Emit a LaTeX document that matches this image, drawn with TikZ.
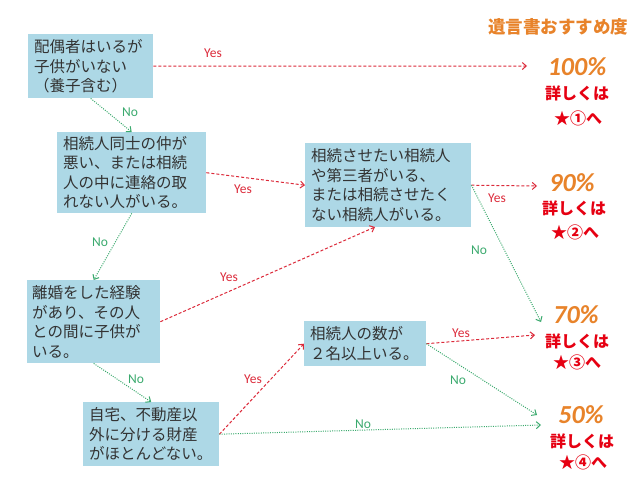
\documentclass[tikz,border=0pt]{standalone}
\usepackage{fontspec}
\usetikzlibrary{arrows.meta}
\newfontfamily\jp{Noto Sans CJK JP}
\newfontfamily\lat{Carlito}
\definecolor{boxfill}{HTML}{ADD8E6}
\definecolor{textdark}{HTML}{333333}
\definecolor{yesred}{HTML}{DC2A3A}
\definecolor{nogreen}{HTML}{3BAA6E}
\definecolor{ocolor}{HTML}{E8832A}
\definecolor{dred}{HTML}{E60012}
\tikzset{
 qbox/.style={fill=boxfill, anchor=north west, inner xsep=6pt, inner ysep=2pt, align=left, text=textdark, font=\jp\fontsize{15.5}{19.5}\selectfont},
 yesline/.style={draw=yesred, line width=1pt, dash pattern=on 3pt off 2pt, -{Straight Barb[length=4pt,width=7pt]}},
 noline/.style={draw=nogreen, line width=1pt, dash pattern=on 1pt off 1.3pt, -{Straight Barb[length=4pt,width=7pt]}},
 yeslbl/.style={text=yesred, font=\lat\fontsize{13.5}{15}\selectfont, inner sep=0pt},
 nolbl/.style={text=nogreen, font=\lat\fontsize{13.5}{15}\selectfont, inner sep=0pt},
 pct/.style={text=ocolor, font=\lat\bfseries\itshape\fontsize{26}{27}\selectfont, inner sep=0pt},
 detail/.style={text=dred, font=\jp\bfseries\fontsize{16}{18}\selectfont, inner sep=0pt},
}
\begin{document}
\begin{tikzpicture}[x=1pt,y=-1pt]
\useasboundingbox[fill=white] (0,0) rectangle (640,480);
% question boxes
\node[qbox, text width=113pt, minimum height=64pt] (b1) at (28,34) {配偶者はいるが\\子供がいない\\（養子含む）};
\node[qbox, text width=137pt, minimum height=81pt] (b2) at (57,132) {相続人同士の仲が\\悪い、または相続\\人の中に連絡の取\\れない人がいる。};
\node[qbox, text width=154pt, minimum height=84pt] (b3) at (305,143) {相続させたい相続人\\や第三者がいる、\\または相続させたく\\ない相続人がいる。};
\node[qbox, text width=123pt, minimum height=83pt, inner xsep=5pt] (b4) at (27,280) {離婚をした経験\\があり、その人\\との間に子供が\\いる。};
\node[qbox, text width=124pt, minimum height=64pt] (b5) at (83,402) {自宅、不動産以\\外に分ける財産\\がほとんどない。};
\node[qbox, text width=110pt, minimum height=45pt] (b6) at (304,321) {相続人の数が\\２名以上いる。};
% title
\node[text=ocolor, font=\jp\bfseries\fontsize{17.5}{20}\selectfont, inner sep=0pt] (title) at (558,27) {遺言書おすすめ度};
% results
\node[pct] (r1a) at (577,67) {100\%};
\node[detail] (r1b) at (577,93) {詳しくは};
\node[detail] (r1c) at (578,118) {★①へ};
\node[pct] (r2a) at (572,183) {90\%};
\node[detail] (r2b) at (574,208) {詳しくは};
\node[detail] (r2c) at (575,232) {★②へ};
\node[pct] (r3a) at (576,315) {70\%};
\node[detail] (r3b) at (577,341) {詳しくは};
\node[detail] (r3c) at (577,362) {★③へ};
\node[pct] (r4a) at (581,415) {50\%};
\node[detail] (r4b) at (582,441) {詳しくは};
\node[detail] (r4c) at (583,462) {★④へ};
% arrow end points
\coordinate (e100) at (527,66);
\coordinate (e90) at (537,186);
\coordinate (e70n) at (541,322);
\coordinate (e70y) at (535,335);
\coordinate (e50n) at (537,415);
\coordinate (e50b) at (541,425);
\coordinate (b3in) at (375,227);
% connectors
\draw[yesline] (b1.east) -- (e100);
\draw[noline] (b1.south) -- (b2.north);
\draw[yesline] (b2.east) -- (b3.west);
\draw[noline] (b2.south) -- (b4.north);
\draw[yesline] (b4.east) -- (b3in);
\draw[noline] (b4.south) -- (b5.north);
\draw[yesline] (b5.east) -- (b6.west);
\draw[noline] (b5.east) -- (e50b);
\draw[yesline] (b6.east) -- (e70y);
\draw[noline] (b6.east) -- (e50n);
\draw[yesline] (b3.east) -- (e90);
\draw[noline] (b3.east) -- (e70n);
% labels
\node[yeslbl] (l1) at (213,53) {Yes};
\node[nolbl] (l2) at (130,112) {No};
\node[yeslbl] (l3) at (243,189) {Yes};
\node[nolbl] (l4) at (100,242) {No};
\node[yeslbl] (l5) at (229,277) {Yes};
\node[nolbl] (l6) at (136,379) {No};
\node[yeslbl] (l7) at (253,379) {Yes};
\node[nolbl] (l8) at (363,424) {No};
\node[yeslbl] (l9) at (461,333) {Yes};
\node[nolbl] (l10) at (458,380) {No};
\node[yeslbl] (l11) at (497,198) {Yes};
\node[nolbl] (l12) at (479,250) {No};
\end{tikzpicture}
\end{document}
